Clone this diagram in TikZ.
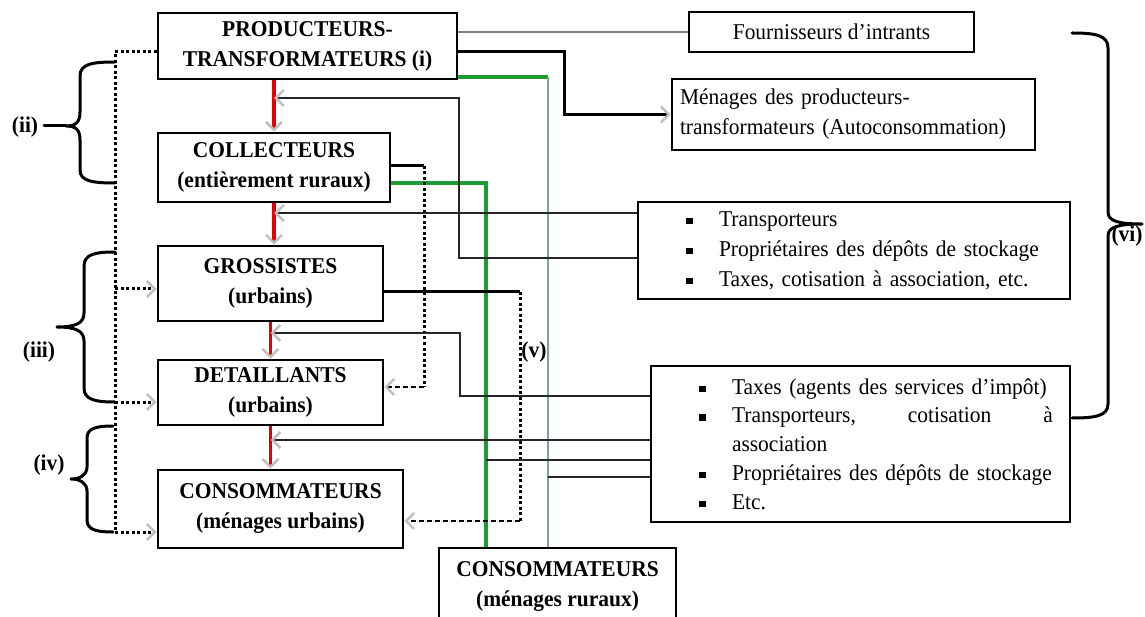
\documentclass[tikz,border=0pt]{standalone}
\usepackage{fontspec}
\setmainfont{Liberation Serif}[FakeStretch=0.95]
\usetikzlibrary{arrows.meta}
\definecolor{rouge}{RGB}{230,0,0}
\definecolor{vertf}{RGB}{30,155,55}
\definecolor{vertc}{RGB}{125,165,135}
\newcommand{\bxf}{\fontsize{22.6}{30}\selectfont\bfseries}
\newcommand{\rgf}{\fontsize{22.6}{30}\selectfont}
\newcommand{\rgfx}{\fontsize{22.6}{28.75}\selectfont}
\newcommand{\bl}[1]{\hspace*{48pt}\raisebox{2pt}{\rule{6.5pt}{6.5pt}}\hspace*{26.5pt}#1}
\begin{document}
\begin{tikzpicture}[x=1pt,y=-1pt,
  box/.style={draw, line width=2.8pt, fill=white, inner sep=0pt, align=center, font=\bxf},
  rbox/.style={draw, line width=2.8pt, fill=white, inner sep=0pt, font=\rgf},
  lab/.style={inner sep=0pt, font=\bxf},
  ga/.style={-{Straight Barb[color=gray!50,length=8pt,width=16pt,line width=2.5pt]}},
  redl/.style={line width=3.5pt, draw=rouge},
  thinl/.style={line width=1.2pt, draw=black!85},
  thickl/.style={line width=3pt, draw=black},
  dotl/.style={line width=3pt, dash pattern=on 3pt off 2.5pt},
  dashl/.style={line width=1.5pt, dash pattern=on 5pt off 3pt},
  gthick/.style={line width=4pt, draw=vertf},
  gthin/.style={line width=1.2pt, draw=vertc},
  bracel/.style={line width=3pt, line cap=round, line join=round}
]
\useasboundingbox (0,0) rectangle (1145,617);
\fill[white] (0,0) rectangle (1145,617);
\clip (0,0) rectangle (1145,617);

% main nodes
\node[box, minimum width=299pt, minimum height=66pt] (P) at (307.5,46) {PRODUCTEURS-\\TRANSFORMATEURS (i)};
\node[box, minimum width=232pt, minimum height=69pt] (C) at (274,167.5) {COLLECTEURS\\(entièrement ruraux)};
\node[box, minimum width=225pt, minimum height=75pt] (G) at (270.5,283.5) {GROSSISTES\\(urbains)};
\node[box, minimum width=225pt, minimum height=65pt] (D) at (270.5,392.5) {DETAILLANTS\\(urbains)};
\node[box, minimum width=245pt, minimum height=78pt] (CU) at (280.5,509) {CONSOMMATEURS\\(ménages urbains)};
\node[box, minimum width=237pt, minimum height=77pt] (CR) at (557.5,586.5) {CONSOMMATEURS\\(ménages ruraux)};

\node[rbox, minimum width=285pt, minimum height=40pt] (F) at (831.5,32) {Fournisseurs d’intrants};
\node[rbox, text width=363pt, minimum height=71pt, align=left] (M) at (853.5,114.5)
  {\hspace*{8pt}Ménages des producteurs-\\\hspace*{8pt}transformateurs (Autoconsommation)};
\node[rbox, text width=432pt, minimum height=97pt, align=left] (T) at (854,250.5)
  {\bl{Transporteurs}\\\bl{Propriétaires des dépôts de stockage}\\\bl{Taxes, cotisation à association, etc.}};
\node[rbox, font=\rgfx, text width=419pt, minimum height=156pt, align=left] (X) at (860.5,444)
  {\bl{Taxes (agents des services d’impôt)}\\\bl{\makebox[321pt][l]{Transporteurs,\hfill cotisation\hfill à}}\\\hspace*{81pt}association\\\bl{Propriétaires des dépôts de stockage}\\\bl{Etc.}};

% red chain
\draw[redl,ga] (P.south -| C.north) -- (C.north);
\draw[redl,ga] (C.south) -- (C.south |- G.north);
\draw[redl,ga] (G.south) -- (D.north);
\draw[redl,ga] (D.south) -- (D.south |- CU.north);

% fournisseurs
\draw[thinl, draw=gray] (F.west) -- (F.west -| P.east);

% autoconsommation
\coordinate (k1) at (564,52);
\coordinate (k2) at (564,114.5);
\draw[thickl,ga] (P.east |- k1) -- (k1) -- (k2) -- (M.west);

% green lines
\coordinate (g1) at (548,77);
\draw[gthick] (P.east |- g1) -- (g1);
\draw[gthin] (g1) -- (g1 |- CR.north);
\coordinate (g2) at (486,183);
\draw[gthick] (C.east |- g2) -- (g2) -- (g2 |- CR.north);

% collecteurs -> detaillants
\coordinate (c1) at (424,166);
\coordinate (c2) at (424,387);
\draw[thickl] (C.east |- c1) -- (c1);
\draw[dotl] (c1) -- (c2);
\draw[dashl,ga] (c2) -- (c2 -| D.east);

% grossistes -> consommateurs urbains
\coordinate (d1) at (520,292);
\coordinate (d2) at (520,521);
\draw[thickl] (G.east |- d1) -- (d1);
\draw[dotl] (d1) -- (d2);
\draw[dashl,ga] (d2) -- (d2 -| CU.east);

% left dotted
\coordinate (l0) at (115,52);
\coordinate (l2) at (115,289);
\coordinate (l3) at (115,402);
\coordinate (l4) at (115,532);
\draw[dotl] (P.west |- l0) -- (l0) -- (l4);
\draw[dotl,ga] (l2) -- (l2 -| G.west);
\draw[dotl,ga] (l3) -- (l3 -| D.west);
\draw[dotl,ga] (l4) -- (l4 -| CU.west);

% transporteurs connectors
\coordinate (t1) at (459,258);
\coordinate (t2) at (459,98);
\draw[thinl,ga] (T.west |- t1) -- (t1) -- (t2) -- (t2 -| C.north);
\coordinate (t3) at (600,213);
\draw[thinl,ga] (T.west |- t3) -- (t3 -| C.south);

% taxes connectors
\coordinate (x1) at (460,396);
\coordinate (x2) at (460,333);
\draw[thinl,ga] (X.west |- x1) -- (x1) -- (x2) -- (x2 -| G.south);
\coordinate (x3) at (600,440);
\draw[thinl,ga] (X.west |- x3) -- (x3 -| D.south);
\coordinate (x4) at (600,460);
\draw[thinl] (X.west |- x4) -- (x4 -| g2);
\coordinate (x5) at (600,477);
\draw[thinl] (X.west |- x5) -- (x5 -| g1);

% braces
\draw[bracel] (115,62) .. controls (92,62) and (80,64) .. (80,76) -- (80,112)
  .. controls (80,122) and (76,126) .. (66,126) .. controls (76,126) and (80,130) .. (80,140)
  -- (80,170) .. controls (80,181) and (92,183) .. (115,183);
\draw[bracel] (44,126) -- (66,126);
\draw[bracel] (115,252) .. controls (96,252) and (84,254) .. (84,266) -- (84,313)
  .. controls (84,323) and (76,327) .. (57,327) .. controls (76,327) and (84,331) .. (84,341)
  -- (84,388) .. controls (84,400) and (96,402) .. (115,402);
\draw[bracel] (113,426) .. controls (97,426) and (87,428) .. (87,438) -- (87,467)
  .. controls (87,475) and (80,479) .. (71,479) .. controls (80,479) and (87,483) .. (87,491)
  -- (87,520) .. controls (87,530) and (97,532) .. (113,532);
\draw[bracel] (1072,33) .. controls (1095,33) and (1108,35) .. (1108,48) -- (1108,212)
  .. controls (1108,221) and (1118,224) .. (1142,224) .. controls (1118,224) and (1108,227) .. (1108,236)
  -- (1108,404) .. controls (1108,416) and (1095,418) .. (1072,418);

% labels
\node[lab] (lii) at (25,127) {(ii)};
\node[lab] (liii) at (39,352) {(iii)};
\node[lab] (liv) at (49,465) {(iv)};
\node[lab] (lv) at (534,352) {(v)};
\node[lab] (lvi) at (1127,236) {(vi)};
\end{tikzpicture}
\end{document}
